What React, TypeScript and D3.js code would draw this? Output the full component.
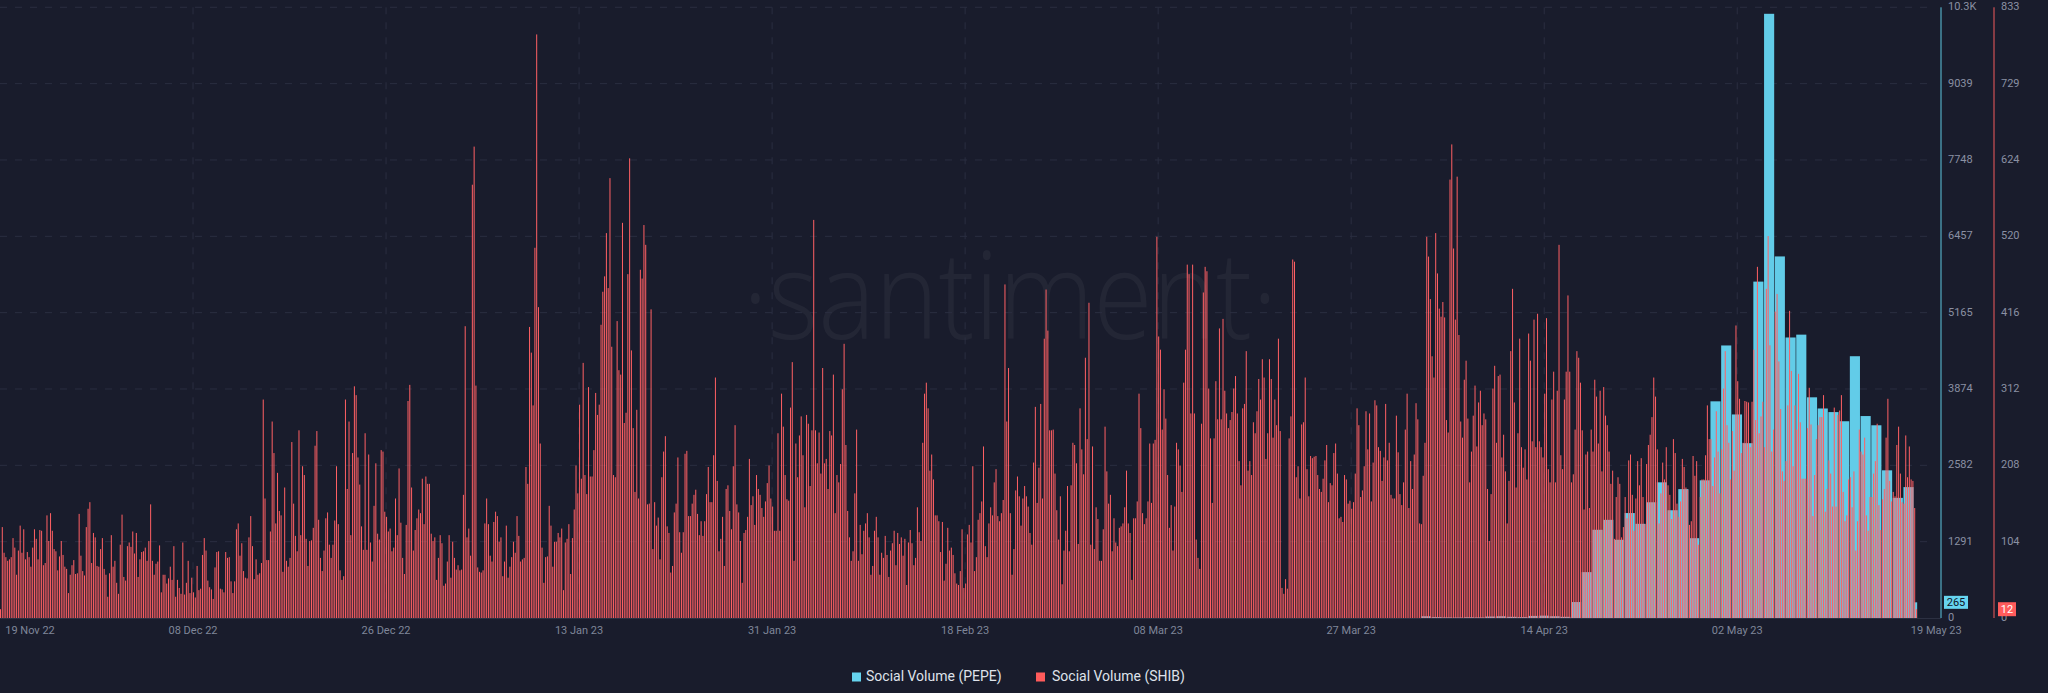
import { useEffect } from 'react'
import * as d3 from 'd3'

// SHIB social volume, 4h bars
const shibNovDec = [
  12, 124, 89, 83, 78, 80, 83, 109, 96, 59,
  92, 126, 89, 121, 80, 90, 83, 70, 96, 121,
  108, 80, 120, 119, 72, 75, 140, 105, 143, 119,
  94, 91, 65, 84, 105, 86, 70, 67, 34, 59,
  72, 79, 60, 61, 142, 85, 64, 58, 124, 149,
  158, 75, 116, 110, 71, 70, 94, 109, 67, 59,
  29, 61, 113, 70, 78, 48, 33, 100, 141, 56,
  51, 98, 103, 97, 118, 88, 116, 56, 80, 90,
  91, 96, 78, 105, 155, 78, 59, 74, 77, 99,
  35, 59, 59, 47, 54, 70, 52, 98, 29, 52,
  41, 33, 103, 32, 48, 78, 34, 55, 35, 28,
  71, 38, 40, 86, 109, 92, 51, 42, 39, 26,
  69, 90, 91, 40, 39, 35, 90, 82, 83, 50,
  34, 50, 121, 129, 85, 102, 64, 55, 54, 110,
  139, 98, 53, 80, 59, 61, 75,
  298, 163, 79, 79, 118, 268, 225, 129, 198, 146,
  140, 63, 178, 78, 70, 82, 240, 156, 112, 91,
  256, 113, 207, 195, 108, 71, 105, 106, 123, 235,
  255, 134, 82, 64, 92, 136, 144, 100,
]

const shibDecJan = [
  82, 100, 133, 207, 128, 65, 52, 57, 298, 176,
  268, 113, 225, 316, 304, 219, 182, 125, 93, 252,
  93, 223, 103, 77, 153, 211, 115, 107, 229, 227,
  145, 138, 118, 122, 91, 96, 163, 113, 204, 130,
  82, 60, 127, 296, 318, 178, 92, 120, 136, 148,
  143, 190, 128, 193, 183, 183, 115, 105, 110, 52,
  82, 113, 102, 44, 47, 77, 113, 55, 104, 82,
  66, 72, 65, 66, 168, 398, 110, 122, 85, 591,
  643, 317, 69, 63, 62, 65, 129, 163, 128, 85,
  77, 131, 145, 139, 104, 110, 57, 77, 126, 55,
  70, 83, 104, 89, 139, 112, 77, 80, 82, 206,
  183, 397, 362, 290, 505, 796, 424, 238, 96, 48,
  83, 84, 153, 126, 70, 104, 104, 116, 110, 122,
  38, 103, 108, 128, 60, 109, 148, 208, 170, 291,
  190, 348, 195, 169, 315, 193, 193, 229, 307, 277,
  291, 400, 445, 466, 525, 450, 600, 370, 195, 192,
  405, 338, 332, 539, 266, 280, 469, 627, 365, 259,
  172, 284, 163, 475, 463, 536, 509, 155, 156, 421,
  94, 158, 126, 137,
]

const shibJanFeb = [
  80, 192, 227, 248, 125, 116, 62, 71, 144, 156,
  219, 117, 89, 117, 224, 228, 139, 139, 156,
  168, 175, 142, 113, 132, 112, 132, 169, 206,
  158, 158, 222, 328, 187, 91, 108, 138, 71, 176,
  181, 146, 121, 207, 263, 155, 144, 105, 48,
  116, 120, 138, 217, 154, 166, 127, 195, 176,
  168, 150, 138, 159, 184, 208, 163, 152, 119, 119,
  252, 119, 306, 261, 195, 162, 160, 287, 349,
  78, 238, 192, 249, 275, 222, 151, 277, 265,
  180, 256, 543, 256, 211, 253, 197, 341, 211, 217,
  176, 255, 249, 332, 143, 195, 185, 210, 312,
  374, 236, 146, 110, 78, 91, 170, 257, 78,
  127, 87, 119, 129, 143, 110, 59, 71, 119, 138,
  110, 59, 89, 82, 112, 86, 56, 92, 102,
  119, 72, 116, 101, 110, 85, 108, 45, 103,
  120, 102, 72, 82, 151, 117, 105, 239, 306, 321,
  286, 201, 223, 189, 140, 140, 132, 90, 131,
  51, 74, 123, 92, 96, 86, 61, 47, 45,
  64, 121, 41, 47, 114, 127, 103, 207, 64, 83,
  134, 143, 159, 234, 98, 83, 129,
]

const shibFebMar = [
  151, 140, 185, 203, 139, 132, 143, 161, 455, 268, 341, 143, 59, 94,
  174, 193, 166, 126, 163, 180, 166, 152, 116, 100, 212, 288, 157, 205,
  292, 163, 381, 448, 392, 256, 256, 257, 197, 147, 107, 166, 46, 92,
  119, 180, 91, 181, 239, 236, 211, 101, 286, 230, 196, 355, 244,
  430, 100, 234, 94, 151, 135, 78, 78, 121, 261, 200, 156, 168, 91, 136,
  103, 98, 123, 125, 129, 151, 201, 129, 116, 52, 136, 136, 159, 306,
  259, 143, 128, 136, 159, 238, 157, 238, 243, 520, 384, 366, 257, 312,
  272, 195, 123, 154, 92, 152, 239, 230, 208, 172, 321, 366, 482, 469,
  279, 482, 279, 107, 82, 67, 265, 444, 479, 473, 313, 245, 157, 245,
  323, 271, 395, 271, 408, 310, 279, 259, 270, 281, 313, 330, 279, 214,
  181, 286, 292, 364, 201, 214, 195, 267, 252, 282, 326, 298, 353, 328,
  217, 252, 353, 326, 246, 298, 263, 381, 255, 41, 33, 53, 40, 245,
  275, 489, 486, 192, 207, 163, 264, 267, 328, 203, 166, 221, 218, 220,
  221, 195, 176,
]

const shibMarApr = [
  172, 190, 215, 236, 158, 184, 181, 225, 238, 197, 136, 138, 131, 195,
  189, 156, 160, 149, 158, 197, 286, 263, 165, 174, 207, 282, 230, 279,
  159, 212, 297, 290, 233, 228, 187, 219, 292, 215, 239, 168, 163, 163,
  276, 226, 169, 154, 185, 257, 306, 150, 214, 176, 223, 293, 271, 129,
  128, 194, 239, 520, 493, 435, 357, 328, 525, 470, 422, 411, 431, 410,
  270, 253, 598, 646, 504, 407, 602, 386, 268, 246, 325, 351, 272, 185,
  227, 276, 317, 234, 294, 310, 263, 279, 271, 176, 105, 169, 313, 344,
  239, 330, 332, 219, 250, 200, 129, 187, 364, 449, 294, 178, 252,
  381, 233, 205, 230, 189, 388, 351, 241, 407, 233, 415, 241, 233, 219, 306, 409,
  203, 185, 298, 336, 185, 310, 509, 222, 203, 298, 336, 440, 336,
  185, 196, 257, 364, 355, 321, 256, 148, 223, 227, 150, 257, 227, 325,
  302, 238, 310, 200, 315, 276, 263, 227, 183, 201, 108, 165, 192, 183,
  110, 124, 165, 136, 215, 223, 168, 119, 163, 214, 181, 218, 165, 128,
  210, 236, 250,
]

const shibAprMay = [
  274, 328, 302, 230, 129, 170, 212, 189, 233, 181, 168, 135, 244,
  225, 156, 138, 159, 217, 206, 178, 175, 127, 132, 221, 194, 214,
  100, 165, 189, 189, 222, 290, 244, 244, 180, 219, 282, 227, 170,
  230, 313, 364, 263, 239, 189, 255, 201, 399, 323, 299, 225, 239,
  296, 295, 294, 233, 295, 366, 270, 479, 252, 275, 295, 233, 449,
  521, 372, 227, 257, 418, 442, 350, 285, 200, 187, 214, 290, 419,
  337, 207, 290, 257, 333, 267, 190, 190, 190, 259, 314, 264, 139,
  195, 244, 263, 274, 274, 304, 145, 176, 215, 197, 152, 287, 152,
  277, 283, 304, 172, 132, 140, 189, 192, 151, 200, 92, 132, 257, 227, 223, 246, 140, 119,
  165, 165, 197, 214, 265, 154, 120, 162, 176, 246, 299, 187, 159, 172, 166, 236, 261, 197, 158, 156,
  249, 192, 234, 189, 187, 150, 12,
]

const shib = [...shibNovDec, ...shibDecJan, ...shibJanFeb, ...shibFebMar, ...shibMarApr, ...shibAprMay]

// PEPE social volume, daily bars, starting at day 132 of the range
const pepeStartDay = 132
const pepe = [
  30, 15, 10, 8, 12, 10, 25, 30, 20, 15, 35, 40, 30, 20,
  270, 776, 1492, 1660, 1323, 1775, 1593, 1958, 2295, 1823,
  2180, 1350, 2329, 3665, 4610, 3443, 2957, 5690, 10220, 6116,
  4745, 4793, 3733, 3544, 3483, 3328, 4428, 3416, 3260, 2498,
  2032, 2214, 265,
]

const dateLabels = [
  '19 Nov 22', '08 Dec 22', '26 Dec 22', '13 Jan 23', '31 Jan 23', '18 Feb 23',
  '08 Mar 23', '27 Mar 23', '14 Apr 23', '02 May 23', '19 May 23',
]
const shibTickLabels = ['0', '104', '208', '312', '416', '520', '624', '729', '833']
const pepeTickLabels = ['0', '1291', '2582', '3874', '5165', '6457', '7748', '9039', '10.3K']

const SHIB_MAX = 833
const PEPE_MAX = 10330
const BARS_PER_DAY = 6
const DAYS_PER_TICK = 18
const PEPE_SHIFT = 3

const W = 2048
const H = 693
const plotRight = 1941
const plotTop = 7.3
const plotBottom = 618
const bg = '#191c2c'
const red = '#ff6064'
const blue = '#62cce8'
const font = 'Roboto, "Noto Sans", sans-serif'

export default function App() {
  useEffect(() => {
    document.body.style.margin = '0'
    document.body.style.background = bg
  }, [])

  const x = d3.scaleLinear().domain([0, 1086]).range([0, plotRight])
  const yShib = d3.scaleLinear().domain([0, SHIB_MAX]).range([plotBottom, plotTop])
  const yPepe = d3.scaleLinear().domain([0, PEPE_MAX]).range([plotBottom, plotTop])
  const step = x(1) - x(0)

  const gridLevels = shibTickLabels.map((_, i) => (SHIB_MAX * i) / 8)
  const lastPepe = pepe[pepe.length - 1]
  const lastShib = shib[shib.length - 1]

  return (
    <svg width={W} height={H} style={{ display: 'block', background: bg }}>
      <rect x={0} y={0} width={W} height={H} fill={bg} />

      {/* watermark */}
      <text
        x={1010}
        y={339}
        textAnchor="middle"
        fontFamily='"Open Sans", sans-serif'
        fontWeight={300}
        fontSize={122}
        textLength={535}
        lengthAdjust="spacingAndGlyphs"
        fill="#ffffff"
        opacity={0.045}
      >
        ·santiment·
      </text>

      {/* grid */}
      <g stroke="#2a2e40" strokeWidth={1} strokeDasharray="7,8">
        {gridLevels.slice(1).map((v, i) => (
          <line key={'h' + i} x1={0} x2={plotRight - 8} y1={yShib(v)} y2={yShib(v)} />
        ))}
        {dateLabels.slice(1, -1).map((_, i) => {
          const tx = x((i + 1) * DAYS_PER_TICK * BARS_PER_DAY)
          return <line key={'v' + i} x1={tx} x2={tx} y1={plotTop} y2={plotBottom} />
        })}
      </g>

      {/* PEPE bars (behind) */}
      <g fill={blue}>
        {pepe.map((v, j) => {
          const i0 = (pepeStartDay + j) * BARS_PER_DAY + PEPE_SHIFT
          const i1 = Math.min(i0 + BARS_PER_DAY, shib.length)
          const y = yPepe(v)
          return (
            <rect key={j} x={x(i0)} y={y} width={Math.max(0.5, x(i1) - x(i0) - 0.6)} height={plotBottom - y} />
          )
        })}
      </g>

      {/* SHIB bars */}
      <g fill={red}>
        {shib.map((v, i) => {
          const y = yShib(v)
          return <rect key={i} x={x(i)} y={y} width={step * 0.56} height={plotBottom - y} />
        })}
      </g>

      {/* baseline */}
      <line x1={0} x2={plotRight} y1={plotBottom + 0.5} y2={plotBottom + 0.5} stroke="#2c3042" />

      {/* right axes */}
      <line x1={plotRight} x2={plotRight} y1={plotTop} y2={plotBottom} stroke="#5ec7e0" strokeWidth={1} />
      <line x1={1994} x2={1994} y1={plotTop} y2={plotBottom} stroke="#f25b5d" strokeWidth={1} />

      <g fontFamily={font} fontSize={11} fill="#8a90a3" dominantBaseline="middle">
        {pepeTickLabels.map((t, i) => (
          <text key={'p' + t} x={plotRight + 7} y={yPepe((PEPE_MAX * i) / 8)}>
            {t}
          </text>
        ))}
        {shibTickLabels.map((t, i) => (
          <text key={'s' + t} x={2001} y={yShib((SHIB_MAX * i) / 8)}>
            {t}
          </text>
        ))}
      </g>

      {/* last value badges */}
      <g fontFamily={font} fontSize={11} dominantBaseline="middle">
        <rect x={plotRight + 3} y={yPepe(lastPepe) - 6.5} width={24} height={13} fill="#66d4ef" />
        <text x={plotRight + 15} y={yPepe(lastPepe) + 0.5} textAnchor="middle" fill="#10131f">
          {lastPepe}
        </text>
        <rect x={1998} y={yShib(lastShib) - 7} width={18} height={14} fill="#ff5b5b" />
        <text x={2007} y={yShib(lastShib) + 0.5} textAnchor="middle" fill="#ffffff">
          {lastShib}
        </text>
      </g>

      {/* x axis labels */}
      <g fontFamily={font} fontSize={11} fill="#7f8699" textAnchor="middle" dominantBaseline="middle">
        {dateLabels.map((d, i) => {
          const tx = x(i * DAYS_PER_TICK * BARS_PER_DAY)
          const lx = i === dateLabels.length - 1 ? tx + 6 : Math.max(tx, 30)
          return (
            <text key={d} x={lx} y={631}>
              {d}
            </text>
          )
        })}
      </g>

      {/* legend */}
      <g fontFamily={font} fontSize={14} fill="#dfe2ea" dominantBaseline="middle">
        <rect x={852} y={672.5} width={9} height={9} fill="#66d4ef" />
        <text x={866} y={677}>Social Volume (PEPE)</text>
        <rect x={1036} y={672.5} width={9} height={9} fill="#ff5b5b" />
        <text x={1052} y={677}>Social Volume (SHIB)</text>
      </g>
    </svg>
  )
}
